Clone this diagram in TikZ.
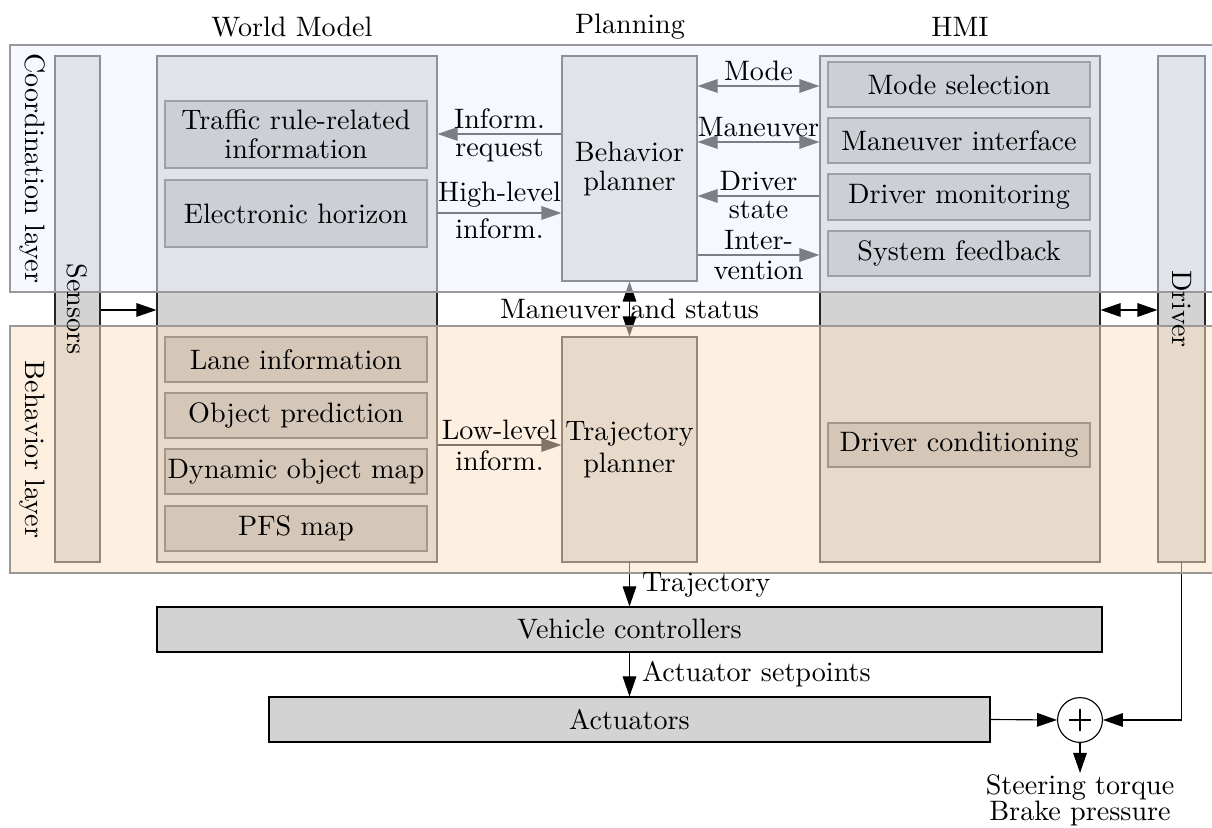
\documentclass[tikz,border=0pt]{standalone}
\usepackage{xcolor}
\definecolor{coordbg}{HTML}{ECF3FF}
\definecolor{behavbg}{HTML}{FBE2C5}
\definecolor{boxgray}{HTML}{D3D3D3}
\definecolor{subgray}{HTML}{AAAAAA}
\usepackage{tikz}
\usetikzlibrary{arrows.meta,positioning,fit,calc}
\pgfdeclarelayer{shapes}
\pgfdeclarelayer{tint}
\pgfsetlayers{shapes,tint,main}
\tikzset{
  every picture/.style={line width=0.4pt},
  colbox/.style={draw=black!85, fill=boxgray, inner sep=0pt, fit={#1}},
  subbox/.style={draw=black!72, fill=subgray, inner sep=0pt, fit={#1}},
  blockbox/.style={draw=black, fill=boxgray, inner sep=0pt, fit={#1}},
  layerbg/.style={draw=black!40, fill=#1, fill opacity=0.52, inner sep=0pt},
  sumnode/.style={circle, draw=black, fill=white, inner sep=0pt, minimum size=0.56cm},
  boxtext/.style={align=center, font={\fontsize{10pt}{10.3pt}\selectfont\lineskiplimit=2.5pt\lineskip=2.5pt}},
  lbl/.style={inner sep=1.8pt},
}

\begin{document}
\begin{tikzpicture}[x=0.0125cm, y=-0.0125cm, >={Triangle[length=2.5mm, width=1.7mm]}]
  \useasboundingbox (0,0) rectangle (1212,828);

  \begin{pgfonlayer}{shapes}
    % columns and planners
    \node[colbox={(55,56) (100,562)}] (sen) {};
    \node[colbox={(157,56) (437,562)}] (wm) {};
    \node[colbox={(820,56) (1100,562)}] (hmi) {};
    \node[colbox={(1158,56) (1205,562)}] (drv) {};
    \node[colbox={(562,56) (697,281)}] (bp) {};
    \node[colbox={(562,337) (697,562)}] (tp) {};
    % world model
    \node[subbox={(165,101) (427,168)}] (traf) {};
    \node[subbox={(165,180) (427,247)}] (ehor) {};
    \node[subbox={(165,337) (427,382)}] (lane) {};
    \node[subbox={(165,393) (427,438)}] (opred) {};
    \node[subbox={(165,449) (427,494)}] (dmap) {};
    \node[subbox={(165,506) (427,551)}] (pfs) {};
    % hmi
    \node[subbox={(828,62) (1090,107)}] (msel) {};
    \node[subbox={(828,118) (1090,163)}] (mint) {};
    \node[subbox={(828,174) (1090,220)}] (dmon) {};
    \node[subbox={(828,231) (1090,276)}] (sfb) {};
    \node[subbox={(828,423) (1090,467)}] (dcon) {};
    % vehicle side
    \node[blockbox={(157,607) (1102,652)}] (vc) {};
    \node[blockbox={(269,697) (990,742)}] (act) {};
    \node[sumnode] (sum) at (1080,720) {};

    \coordinate (rMode) at (0,86);
    \coordinate (rReq) at (0,134);
    \coordinate (rMan) at (0,142);
    \coordinate (rDrv) at (0,196);
    \coordinate (rHigh) at (0,213);
    \coordinate (rInt) at (0,255);
    \coordinate (rMid) at (0,310);
    \coordinate (rLow) at (0,445);

    \draw[->] (bp.west |- rReq) -- coordinate[midway] (aReq) (wm.east |- rReq);
    \draw[->] (wm.east |- rHigh) -- coordinate[midway] (aHigh) (bp.west |- rHigh);
    \draw[<->] (bp.east |- rMode) -- coordinate[midway] (aMode) (hmi.west |- rMode);
    \draw[<->] (bp.east |- rMan) -- coordinate[midway] (aMan) (hmi.west |- rMan);
    \draw[->] (hmi.west |- rDrv) -- coordinate[midway] (aDrv) (bp.east |- rDrv);
    \draw[->] (bp.east |- rInt) -- coordinate[midway] (aInt) (hmi.west |- rInt);
    \draw[->] (wm.east |- rLow) -- coordinate[midway] (aLow) (tp.west |- rLow);
    \draw[<->] (bp) -- coordinate[midway] (aMs) (tp);
    \draw[->] (sen.east |- rMid) -- (wm.west |- rMid);
    \draw[<->] (hmi.east |- rMid) -- (drv.west |- rMid);

    \draw[->] (tp) -- coordinate[midway] (aTraj) (vc);
    \draw[->] (vc) -- coordinate[midway] (aSet) (act);
    \draw[->] (act.east) -- (sum.west);
    \draw[->] (drv.south) |- (sum.east);
    \draw[->] (sum.south) -- ++(0,30) coordinate (outp);
    \draw (sum.center) +(-11,0) -- +(11,0) (sum.center) +(0,-11) -- +(0,11);
  \end{pgfonlayer}

  \begin{pgfonlayer}{tint}
    \node[layerbg=coordbg, fit={(10,45) (1216,292)}] (coord) {};
    \node[layerbg=behavbg, fit={(10,326) (1216,573)}] (behav) {};
  \end{pgfonlayer}

  % titles
  \node (tWm) at (292,27) {World Model};
  \node (tPl) at (630,27) {Planning};
  \node (tHmi) at (960,27) {HMI};
  \node[rotate=-90] (tCoord) at ($(coord.west)+(23,0)$) {Coordination layer};
  \node[rotate=-90] (tBehav) at ($(behav.west)+(23,0)$) {Behavior layer};
  \node[rotate=-90] (tSen) at (sen) {Sensors};
  \node[rotate=-90] (tDrv) at (drv) {Driver};

  % box texts
  \node[boxtext] (tTraf) at (traf) {Traffic rule-related\\information};
  \node[boxtext] (tEhor) at (ehor) {Electronic horizon};
  \node[boxtext] (tLane) at (lane) {Lane information};
  \node[boxtext] (tOpred) at (opred) {Object prediction};
  \node[boxtext] (tDmap) at (dmap) {Dynamic object map};
  \node[boxtext] (tPfs) at (pfs) {PFS map};
  \node[boxtext] (tBp) at (bp) {Behavior\\planner};
  \node[boxtext] (tTp) at (tp) {Trajectory\\planner};
  \node[boxtext] (tMsel) at (msel) {Mode selection};
  \node[boxtext] (tMint) at (mint) {Maneuver interface};
  \node[boxtext] (tDmon) at (dmon) {Driver monitoring};
  \node[boxtext] (tSfb) at (sfb) {System feedback};
  \node[boxtext] (tDcon) at (dcon) {Driver conditioning};
  \node[boxtext] (tVc) at (vc) {Vehicle controllers};
  \node[boxtext] (tAct) at (act) {Actuators};

  % connector labels
  \node[lbl, above] (lReq1) at (aReq) {Inform.};
  \node[lbl, below] (lReq2) at (aReq) {request};
  \node[lbl, above] (lHigh1) at (aHigh) {High-level};
  \node[lbl, below] (lHigh2) at (aHigh) {inform.};
  \node[lbl, above] (lMode) at (aMode) {Mode};
  \node[lbl, above] (lMan) at (aMan) {Maneuver};
  \node[lbl, above] (lDrv1) at (aDrv) {Driver};
  \node[lbl, below] (lDrv2) at (aDrv) {state};
  \node[lbl, above] (lInt1) at (aInt) {Inter-};
  \node[lbl, below] (lInt2) at (aInt) {vention};
  \node[lbl, above] (lLow1) at (aLow) {Low-level};
  \node[lbl, below] (lLow2) at (aLow) {inform.};
  \node[lbl] (lMs) at (aMs) {Maneuver and status};
  \node[lbl, right=2.5pt of aTraj] (lTraj) {Trajectory};
  \node[lbl, right=2.5pt of aSet] (lSet) {Actuator setpoints};
  \node[below=0pt of outp, align=center, inner sep=0.5pt, font=\fontsize{10pt}{9pt}\selectfont] (out) {Steering torque\\Brake pressure};
\end{tikzpicture}
\end{document}
